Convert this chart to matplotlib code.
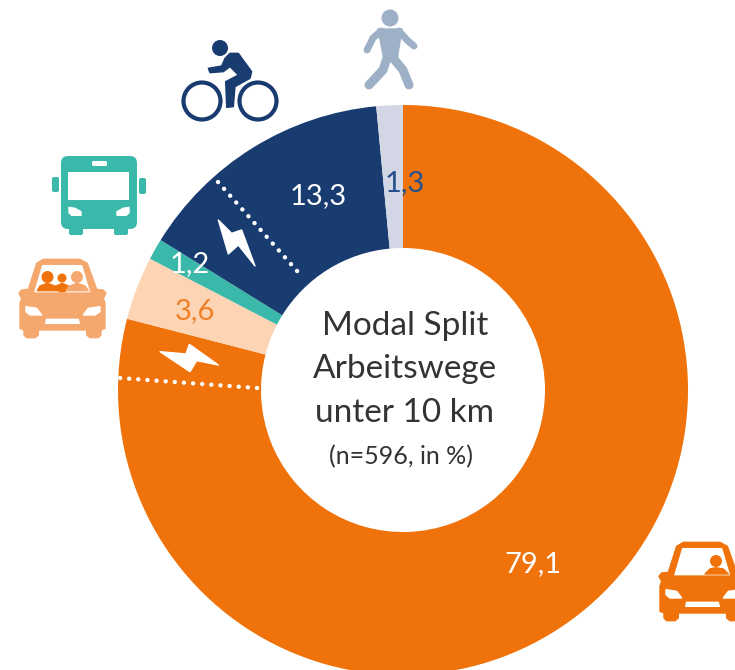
import matplotlib
matplotlib.use("Agg")
import matplotlib.pyplot as plt
from matplotlib.patches import Circle, Polygon, FancyBboxPatch

# clockwise from 12 o'clock
MODES = ["Auto", "Mitfahrer", "OEV", "Rad", "Fuss"]
VALUE_LABELS = ["79,1", "3,6", "1,2", "13,3", "1,3"]
# share of the ring each slice really takes up in the picture (%)
DRAWN_SHARES = [79.1, 3.6, 1.2, 14.7, 1.5]
COLORS = ["#EF730A", "#FDD5B5", "#3AB8A9", "#183C70", "#D3D7E5"]
LABEL_COLORS = ["white", "#EF8026", "white", "white", "#24508C"]
CENTER_LINES = ["Modal Split", "Arbeitswege", "unter 10 km"]
CENTER_NOTE = "(n=596, in %)"

W, H = 735, 670
CX, CY, R_OUT, R_IN = 403, 390, 285, 142
LABEL_POS = [(533, 564), (195, 311), (190, 264), (318, 196), (405, 183)]
CENTER_Y = [326, 369, 413]

NAVY = "#183C70"
TEAL = "#3AB8A9"
ORANGE = "#EF730A"
PEACH_ICON = "#F5A86E"
WALK = "#9DB0C6"
FONT = "Lato"


def px(x, y):
    """picture pixels (y down) to axes coords (y up)"""
    return (x, H - y)


def poly(ax, pts, color, dx=0, dy=0, scale=1 / 3, **kw):
    xy = [px(x * scale + dx, y * scale + dy) for x, y in pts]
    ax.add_patch(Polygon(xy, closed=True, fc=color, ec=color, lw=1, joinstyle="round", zorder=5, **kw))


def circle(ax, x, y, r, color, **kw):
    ax.add_patch(Circle(px(x, y), r, fc=color, ec="none", zorder=6, **kw))


def stroke(ax, pts, color, lw):
    xs, ys = zip(*[px(x, y) for x, y in pts])
    ax.plot(xs, ys, color=color, lw=lw, solid_capstyle="round", solid_joinstyle="round", zorder=5)


def box(ax, x0, y0, x1, y1, color, rad=2):
    ax.add_patch(FancyBboxPatch(px(x0 + rad, y1 - rad), x1 - x0 - 2 * rad, y1 - y0 - 2 * rad,
                                boxstyle=f"round,pad={rad}", fc=color, ec="none", zorder=5))


def car(ax, color, dx, dy):
    body = [(130, 778), (240, 778), (262, 790), (290, 868), (310, 870), (318, 880), (310, 895),
            (315, 910), (315, 985), (303, 990), (303, 1005), (295, 1013), (270, 1013), (260, 1005),
            (260, 990), (115, 990), (115, 1005), (105, 1013), (80, 1013), (72, 1005), (72, 990),
            (60, 985), (60, 910), (65, 895), (57, 880), (65, 870), (85, 868), (110, 790)]
    poly(ax, body, color, dx, dy)
    poly(ax, [(128, 797), (245, 797), (268, 875), (105, 875)], "white", dx, dy)
    poly(ax, [(78, 920), (110, 925), (125, 945), (90, 945), (78, 935)], "white", dx, dy)
    poly(ax, [(300, 920), (265, 925), (250, 945), (285, 945), (300, 935)], "white", dx, dy)
    poly(ax, [(140, 958), (235, 958), (238, 970), (137, 970)], "white", dx, dy)


def draw_icons(ax):
    # bike
    circle(ax, 220, 48, 8, NAVY)
    for cx in (202, 258):
        ax.add_patch(Circle(px(cx, 101), 18.5, fc="none", ec=NAVY, lw=3, zorder=5))
    poly(ax, [(690, 160), (715, 160), (755, 215), (750, 235), (705, 260), (700, 320), (680, 322),
              (677, 245), (715, 225), (690, 200), (670, 215), (630, 218), (625, 205), (665, 198),
              (675, 175)], NAVY)

    # walker
    circle(ax, 390, 18, 8.5, WALK)
    poly(ax, [(378, 29), (402, 29), (397, 60), (384, 60)], WALK, scale=1)
    stroke(ax, [(381, 31), (373, 38), (367, 50)], WALK, 5)
    stroke(ax, [(399, 31), (407, 40), (414, 46)], WALK, 5)
    stroke(ax, [(387, 58), (383, 70), (369, 85)], WALK, 6.5)
    stroke(ax, [(393, 58), (403, 70), (409, 85)], WALK, 6.5)

    # bus
    box(ax, 61, 156, 137, 229, TEAL, rad=7)
    box(ax, 52, 177, 59, 192, TEAL, rad=2)
    box(ax, 139, 178, 146, 194, TEAL, rad=2)
    box(ax, 69, 226, 83, 235, TEAL, rad=2)
    box(ax, 114, 226, 128, 235, TEAL, rad=2)
    box(ax, 68, 172, 129, 200, "white", rad=0.1)
    box(ax, 92, 161, 107, 166, "white", rad=1.5)
    poly(ax, [(207, 622), (225, 625), (243, 635), (243, 646), (215, 646), (207, 638)], "white")
    poly(ax, [(387, 622), (369, 625), (351, 635), (351, 646), (379, 646), (387, 638)], "white")

    # car with passengers
    car(ax, PEACH_ICON, 0, 0)
    circle(ax, 47.5, 277, 6, ORANGE)
    poly(ax, [(112, 872), (120, 858), (142, 850), (165, 858), (175, 872)], ORANGE)
    circle(ax, 62, 278, 4.5, ORANGE)
    poly(ax, [(168, 858), (187, 850), (205, 858), (195, 875), (178, 875)], ORANGE)
    circle(ax, 77, 277, 6, PEACH_ICON)
    poly(ax, [(198, 872), (208, 858), (232, 850), (255, 858), (265, 872)], PEACH_ICON)

    # solo car, runs off the right edge
    car(ax, ORANGE, 640, 283)
    circle(ax, 716, 561, 6, ORANGE)
    poly(ax, [(210, 162), (225, 147), (242, 143), (265, 147), (280, 162)], ORANGE, 635, 520)


def draw_splits(ax):
    # dotted e-bike / e-car splits with their bolts
    for (x0, y0), (x1, y1) in [((218, 182), (298, 272)), ((120, 378), (257, 388))]:
        a, b = px(x0, y0), px(x1, y1)
        ax.plot([a[0], b[0]], [a[1], b[1]], color="white", lw=3.2,
                ls=(0, (0.01, 2.05)), dash_capstyle="round", zorder=4)
    poly(ax, [(655, 660), (695, 700), (725, 690), (765, 798), (715, 735), (685, 762)], "white")
    poly(ax, [(150, 365), (228, 372), (238, 343), (325, 405), (260, 392), (240, 425)], "white", 110, 230)


def main():
    fig = plt.figure(figsize=(W / 100, H / 100), dpi=100)
    ax = fig.add_axes([0, 0, 1, 1])

    ax.pie(DRAWN_SHARES, colors=COLORS, startangle=90, counterclock=False,
           center=px(CX, CY), radius=R_OUT,
           wedgeprops={"width": R_OUT - R_IN, "linewidth": 0})
    ax.set_xlim(0, W)
    ax.set_ylim(0, H)
    ax.set_aspect("equal")
    ax.axis("off")

    draw_splits(ax)
    draw_icons(ax)

    for txt, col, (x, y) in zip(VALUE_LABELS, LABEL_COLORS, LABEL_POS):
        ax.text(*px(x, y), txt, color=col, fontsize=21, family=FONT, ha="center", va="center", zorder=7)
    for line, y in zip(CENTER_LINES, CENTER_Y):
        ax.text(*px(CX + 2, y), line, color="#333333", fontsize=24, family=FONT, ha="center", va="center", zorder=7)
    ax.text(*px(CX - 2, 457), CENTER_NOTE, color="#333333", fontsize=18, family=FONT,
            ha="center", va="center", zorder=7)

    fig.savefig("out.png", dpi=100, facecolor="white")
    plt.close(fig)


if __name__ == "__main__":
    main()
